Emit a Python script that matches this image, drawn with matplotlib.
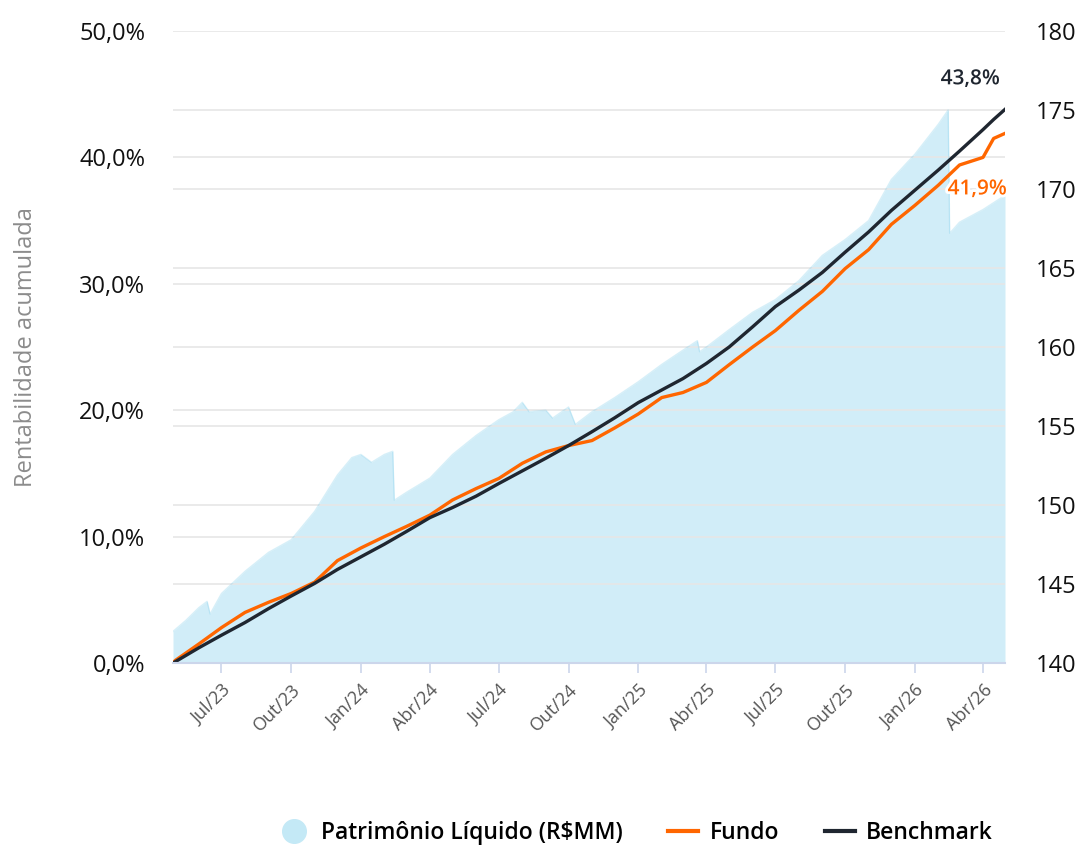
import numpy as np
import pandas as pd
import matplotlib
matplotlib.use('Agg')
import matplotlib.pyplot as plt
import matplotlib.patheffects as pe
from matplotlib.lines import Line2D

plt.rcParams['font.family'] = ['Open Sans', 'DejaVu Sans']

# datas (inicio, primeiro dia de cada mes, fim)
datas = ['2023-04-28', '2023-05-01', '2023-06-01', '2023-07-01', '2023-08-01', '2023-09-01',
         '2023-10-01', '2023-11-01', '2023-12-01', '2024-01-01', '2024-02-01', '2024-03-01',
         '2024-04-01', '2024-05-01', '2024-06-01', '2024-07-01', '2024-08-01', '2024-09-01',
         '2024-10-01', '2024-11-01', '2024-12-01', '2025-01-01', '2025-02-01', '2025-03-01',
         '2025-04-01', '2025-05-01', '2025-06-01', '2025-07-01', '2025-08-01', '2025-09-01',
         '2025-10-01', '2025-11-01', '2025-12-01', '2026-01-01', '2026-02-01', '2026-03-01',
         '2026-04-01', '2026-04-15', '2026-04-30']

fundo = [0.0, 0.2, 1.5, 2.8, 4.0, 4.8, 5.5, 6.4, 8.1, 9.1, 10.0, 10.8,
         11.7, 12.9, 13.8, 14.6, 15.8, 16.7, 17.2, 17.6, 18.6, 19.7, 21.0, 21.4,
         22.2, 23.6, 25.0, 26.3, 27.9, 29.4, 31.2, 32.7, 34.7, 36.2, 37.8, 39.4,
         40.0, 41.5, 41.9]

benchmark = [0.0, 0.1, 1.2, 2.2, 3.2, 4.3, 5.3, 6.3, 7.4, 8.4, 9.4, 10.4,
             11.5, 12.3, 13.2, 14.2, 15.2, 16.2, 17.2, 18.3, 19.4, 20.6, 21.6, 22.5,
             23.7, 25.0, 26.6, 28.2, 29.5, 30.9, 32.5, 34.1, 35.8, 37.4, 39.0, 40.5,
             42.2, 43.0, 43.8]

# patrimonio liquido (R$MM)
datas_pl = ['2023-04-28', '2023-05-15', '2023-06-01', '2023-06-12', '2023-06-16', '2023-07-01',
            '2023-08-01', '2023-09-01', '2023-10-01', '2023-11-01', '2023-12-01', '2023-12-20',
            '2024-01-01', '2024-01-15', '2024-02-01', '2024-02-12', '2024-02-14', '2024-03-01',
            '2024-04-01', '2024-05-01', '2024-06-01', '2024-07-01', '2024-07-20', '2024-08-01',
            '2024-08-10', '2024-09-01', '2024-09-10', '2024-10-01', '2024-10-10', '2024-11-01',
            '2024-12-01', '2025-01-01', '2025-02-01', '2025-03-01', '2025-03-20', '2025-03-23',
            '2025-04-01', '2025-05-01', '2025-06-01', '2025-07-01', '2025-08-01', '2025-09-01',
            '2025-10-01', '2025-11-01', '2025-12-01', '2026-01-01', '2026-02-01', '2026-02-14',
            '2026-02-16', '2026-03-01', '2026-04-01', '2026-04-30']
pl = [142.0, 142.7, 143.5, 143.9, 143.1, 144.4,
      145.8, 147.0, 147.8, 149.6, 151.9, 153.0,
      153.2, 152.7, 153.2, 153.4, 150.3, 150.8,
      151.7, 153.2, 154.4, 155.4, 155.9, 156.5,
      155.9, 156.0, 155.5, 156.2, 155.1, 155.9,
      156.8, 157.8, 158.9, 159.8, 160.4, 159.7,
      160.0, 161.1, 162.2, 163.0, 164.2, 165.8,
      166.8, 168.0, 170.6, 172.2, 174.1, 175.0,
      167.2, 167.9, 168.7, 169.6]

xticks = ['2023-07-01', '2023-10-01', '2024-01-01', '2024-04-01', '2024-07-01', '2024-10-01',
          '2025-01-01', '2025-04-01', '2025-07-01', '2025-10-01', '2026-01-01', '2026-04-01']
xlabels = ['Jul/23', 'Out/23', 'Jan/24', 'Abr/24', 'Jul/24', 'Out/24',
           'Jan/25', 'Abr/25', 'Jul/25', 'Out/25', 'Jan/26', 'Abr/26']

d = pd.to_datetime(datas)
dpl = pd.to_datetime(datas_pl)

LARANJA = '#ff6600'
ESCURO = '#1f2630'
AZUL = '#7ccdeb'
GRADE = '#e6e6e6'

fig = plt.figure(figsize=(10.83, 8.48), dpi=100)
ax = fig.add_axes([173/1083, 1-663/848, (1005-173)/1083, (663-31)/848])
ax2 = ax.twinx()

# area do PL no eixo da direita
ax2.fill_between(dpl, 140, pl, color=AZUL, alpha=0.35, lw=0)
ax2.plot(dpl, pl, color=AZUL, alpha=0.3, lw=1)
ax2.set_ylim(140, 180)
ax2.set_yticks(np.arange(140, 181, 5))
ax2.set_yticks(np.arange(140, 181, 8), minor=True)
ax2.grid(True, which='both', axis='y', color=GRADE, lw=1.2)
ax2.tick_params(axis='y', which='both', length=0, pad=22, labelsize=17, labelcolor='#111')
for s in ax2.spines.values():
    s.set_visible(False)

# linhas no eixo da esquerda, por cima
ax.set_zorder(ax2.get_zorder() + 1)
ax.patch.set_visible(False)
ax.plot(d, fundo, color=LARANJA, lw=2.4, solid_joinstyle='round')
ax.plot(d, benchmark, color=ESCURO, lw=2.4, solid_joinstyle='round')
ax.set_ylim(0, 50)
ax.set_yticks(np.arange(0, 51, 10))
ax.set_yticklabels([f'{v:.1f}%'.replace('.', ',') for v in np.arange(0, 51, 10)])
ax.tick_params(axis='y', length=0, pad=20, labelsize=17, labelcolor='#111')
ax.set_xlim(d[0], d[-1])
ax.set_xticks(pd.to_datetime(xticks))
ax.set_xticklabels(xlabels, rotation=45, ha='right', rotation_mode='anchor')
ax.tick_params(axis='x', length=7, width=1.2, color='#ccd6eb', labelsize=13,
               labelcolor='#555', pad=6)
for s in ['top', 'left', 'right']:
    ax.spines[s].set_visible(False)
ax.spines['bottom'].set_color('#ccd6eb')
ax.spines['bottom'].set_linewidth(1.5)
ax.set_ylabel('Rentabilidade acumulada', fontsize=17, color='#8c8c8c')
ax.yaxis.set_label_coords(-0.162, 0.5)

ax.annotate(f'{benchmark[-1]:.1f}%'.replace('.', ','), (d[-1], benchmark[-1]),
            xytext=(-25, 22), textcoords='offset points', ha='center', va='center',
            fontsize=15, color=ESCURO, fontweight='semibold',
            path_effects=[pe.withStroke(linewidth=4, foreground='white')])
ax.annotate(f'{fundo[-1]:.1f}%'.replace('.', ','), (d[-1], fundo[-1]),
            xytext=(-20, -40), textcoords='offset points', ha='center', va='center',
            fontsize=15, color=LARANJA, fontweight='semibold',
            path_effects=[pe.withStroke(linewidth=4, foreground='white')])

handles = [Line2D([], [], marker='o', ls='none', ms=17, color='#c4e9f6'),
           Line2D([], [], color=LARANJA, lw=3),
           Line2D([], [], color=ESCURO, lw=3)]
fig.legend(handles, ['Patrimônio Líquido (R\\$MM)', 'Fundo', 'Benchmark'],
           loc='center', bbox_to_anchor=(636/1083, 1-833/848), ncol=3, frameon=False,
           handlelength=1.3, handletextpad=0.5, columnspacing=2.0,
           prop={'size': 16.5, 'weight': 'semibold'})

fig.savefig('out.png', dpi=100)
